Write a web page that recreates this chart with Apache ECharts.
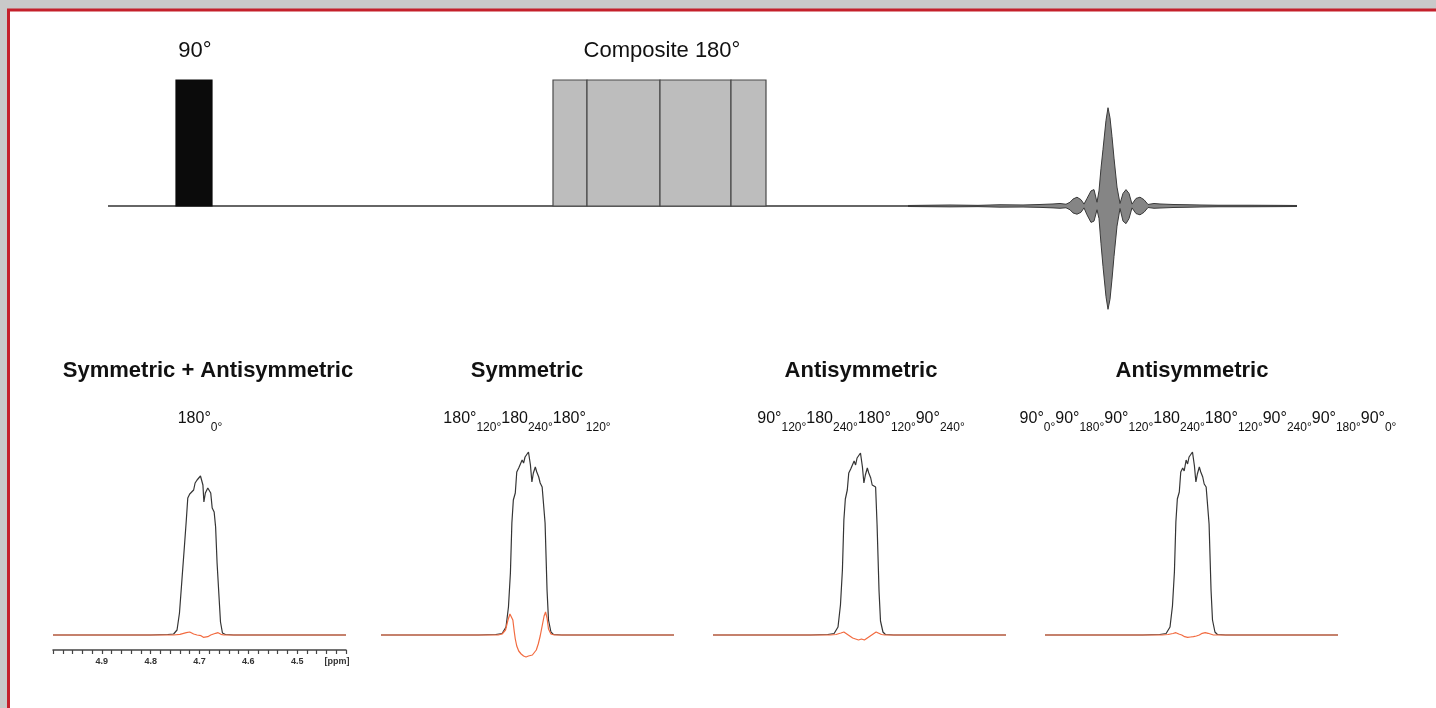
<!DOCTYPE html>
<html><head><meta charset="utf-8">
<script src="https://cdn.jsdelivr.net/npm/echarts@6/dist/echarts.min.js"></script>
<style>html,body{margin:0;padding:0;background:#c9c9c9;} #c{width:1436px;height:708px;}</style>
</head><body><div id="c"></div>
<script>
// ================= DATA =================
// --- pulse sequence (time in arbitrary units, amplitude relative to hard pulse = 1)
const seqBaseline = [[0, 0], [1189, 0]];
const hardPulse = [[68, 104, 1]];                       // [start, end, amplitude]
const compositeBlocks = [[445, 479, 1], [479, 552, 1], [552, 623, 1], [623, 658, 1]];
const shapedX = [800, 842, 870, 892, 915, 932, 945, 952, 958, 962, 965, 969, 973, 976, 979, 983, 986, 989, 991, 993, 995, 998, 1000, 1002, 1004, 1006, 1009, 1012, 1015, 1018, 1021, 1024, 1028, 1032, 1036, 1040, 1046, 1052, 1065, 1080, 1092, 1110, 1142, 1170, 1189];
const shapedUpper = [0.004, 0.008, 0.005, 0.01, 0.008, 0.012, 0.016, 0.02, 0.014, 0.03, 0.055, 0.07, 0.05, 0.015, 0.06, 0.12, 0.13, 0.03, 0.12, 0.3, 0.45, 0.68, 0.78, 0.7, 0.55, 0.38, 0.15, 0.02, 0.1, 0.13, 0.1, 0.015, 0.06, 0.07, 0.05, 0.012, 0.02, 0.016, 0.012, 0.01, 0.008, 0.006, 0.006, 0.005, 0.004];
const shapedLower = [-0.004, -0.007, -0.005, -0.009, -0.008, -0.011, -0.015, -0.018, -0.014, -0.03, -0.055, -0.065, -0.05, -0.015, -0.07, -0.13, -0.12, -0.03, -0.1, -0.3, -0.48, -0.72, -0.82, -0.74, -0.58, -0.4, -0.16, -0.02, -0.12, -0.14, -0.1, -0.015, -0.06, -0.07, -0.05, -0.012, -0.018, -0.016, -0.012, -0.01, -0.008, -0.006, -0.006, -0.005, -0.004];

// --- spectra: [ppm, intensity]
const p1Black = [[5.0,0],[4.80,0],[4.765,0.5],[4.753,1],[4.746,5],[4.741,22],[4.736,55],[4.731,88],[4.727,115],[4.724,137],[4.720,141],[4.716,143],[4.712,145],[4.709,152],[4.705,155],[4.701,156],[4.698,159],[4.695,160],[4.693,150],[4.691,133],[4.688,142],[4.683,147],[4.680,148],[4.677,142],[4.674,127],[4.670,123],[4.667,108],[4.664,72],[4.660,38],[4.657,13],[4.653,2],[4.647,0.5],[4.63,0],[4.4,0]];
const p1Orange = [[5.0,0],[4.753,0],[4.740,0.7],[4.727,2.3],[4.720,3],[4.716,1.7],[4.712,1],[4.705,0],[4.701,-1.7],[4.697,-0.7],[4.692,-2.3],[4.688,-1],[4.683,-1.7],[4.677,0],[4.674,0.7],[4.667,1.7],[4.665,3],[4.662,2.3],[4.656,0.7],[4.650,0],[4.4,0]];
const p2Black = [[5.0,0],[4.80,0],[4.765,0.5],[4.752,1.5],[4.744,8],[4.739,28],[4.735,62],[4.732,112],[4.729,135],[4.725,142],[4.722,163],[4.718,167],[4.715,165],[4.711,175],[4.708,172],[4.705,178],[4.701,177],[4.698,183],[4.694,170],[4.691,153],[4.688,162],[4.684,168],[4.681,163],[4.677,158],[4.674,152],[4.670,148],[4.667,150],[4.664,112],[4.660,45],[4.657,15],[4.652,3],[4.647,0.5],[4.63,0],[4.4,0]];
const p2Orange = [[5.0,0],[4.76,0],[4.752,1],[4.745,5],[4.740,15],[4.736,21],[4.733,23],[4.730,15],[4.727,3],[4.725,-4],[4.722,-11],[4.718,-16],[4.713,-19],[4.708,-21],[4.703,-22],[4.698,-21],[4.694,-22],[4.690,-20],[4.686,-19],[4.682,-15],[4.678,-9],[4.674,-1],[4.670,9],[4.666,19],[4.663,23],[4.660,17],[4.657,6],[4.652,1],[4.645,0],[4.4,0]];
const p3Black = [[5.0,0],[4.80,0],[4.765,0.5],[4.752,1.5],[4.744,8],[4.739,30],[4.735,65],[4.732,115],[4.729,136],[4.725,145],[4.722,162],[4.718,166],[4.715,166],[4.711,174],[4.708,170],[4.705,177],[4.701,178],[4.698,182],[4.694,168],[4.691,152],[4.688,160],[4.684,167],[4.681,162],[4.677,157],[4.674,150],[4.670,148],[4.667,148],[4.664,110],[4.660,44],[4.657,14],[4.652,3],[4.647,0.5],[4.63,0],[4.4,0]];
const p3Orange = [[5.0,0],[4.76,0],[4.748,0.5],[4.738,2],[4.732,3],[4.726,1],[4.720,-1],[4.714,-3],[4.708,-4],[4.702,-5],[4.696,-4],[4.690,-5],[4.684,-3],[4.678,-1],[4.672,1],[4.666,3],[4.662,2],[4.655,0.5],[4.648,0],[4.4,0]];
const p4Black = [[5.0,0],[4.80,0],[4.765,0.5],[4.752,1.5],[4.744,8],[4.739,29],[4.735,63],[4.732,113],[4.729,136],[4.725,143],[4.722,163],[4.718,167],[4.715,164],[4.711,175],[4.708,171],[4.705,178],[4.701,177],[4.698,183],[4.694,169],[4.691,153],[4.688,161],[4.684,168],[4.681,163],[4.677,158],[4.674,151],[4.670,148],[4.667,149],[4.664,111],[4.660,45],[4.657,15],[4.652,3],[4.647,0.5],[4.63,0],[4.4,0]];
const p4Orange = [[5.0,0],[4.76,0],[4.748,0.5],[4.738,1.5],[4.732,2.3],[4.726,1],[4.720,0],[4.714,-1.7],[4.708,-2.3],[4.702,-2],[4.696,-1.7],[4.690,-1],[4.684,0],[4.678,1.7],[4.672,2.3],[4.666,1.7],[4.662,0.5],[4.655,0],[4.4,0]];

// --- text
const pulseLabels = ['90°', 'Composite 180°'];
const panelTitles = ['Symmetric + Antisymmetric', 'Symmetric', 'Antisymmetric', 'Antisymmetric'];
const panelSchemes = [
  [['180°', '0°']],
  [['180°', '120°'], ['180', '240°'], ['180°', '120°']],
  [['90°', '120°'], ['180', '240°'], ['180°', '120°'], ['90°', '240°']],
  [['90°', '0°'], ['90°', '180°'], ['90°', '120°'], ['180', '240°'], ['180°', '120°'], ['90°', '240°'], ['90°', '180°'], ['90°', '0°']]
];
const ppmMin = 4.4, ppmMax = 5.0, ppmStep = 0.1;

// ================= LAYOUT =================
const panelLeft = [53, 381, 713, 1045];
const panelWidth = 293;
const titleCenters = [208, 527, 861, 1192];
const schemeCenters = [200, 527, 861, 1208];
const BLACK = '#353535', ORANGE = '#f26b40';

const chart = echarts.init(document.getElementById('c'));

const grids = [{ left: 108, width: 1189, top: 80, height: 252 }];
const xAxes = [{ gridIndex: 0, type: 'value', min: 0, max: 1189, show: false }];
const yAxes = [{ gridIndex: 0, type: 'value', min: -1, max: 1, show: false }];
panelLeft.forEach((l, i) => {
  const first = i === 0;
  grids.push({ left: l, width: panelWidth, top: 445, height: first ? 205 : 235 });
  xAxes.push({
    gridIndex: i + 1, type: 'value', min: ppmMin, max: ppmMax, interval: ppmStep, inverse: true,
    show: first,
    axisLine: { onZero: false, lineStyle: { color: '#444', width: 1.5 } },
    axisTick: { show: true, length: 4, lineStyle: { color: '#444', width: 1.2 } },
    minorTick: { show: true, splitNumber: 5, length: 4, lineStyle: { color: '#444', width: 1.2 } },
    splitLine: { show: false },
    axisLabel: {
      margin: 7, color: '#333', fontSize: 9, fontWeight: 'bold', fontFamily: 'Liberation Sans, Arial',
      formatter: v => Math.abs(v - ppmMin) < 1e-6 ? '{p|[ppm]}' : (Math.abs(v - ppmMax) < 1e-6 ? '' : v.toFixed(1)),
      rich: { p: { fontSize: 9, fontWeight: 'bold', color: '#333', padding: [0, 18, 0, 0], fontFamily: 'Liberation Sans, Arial' } }
    }
  });
  yAxes.push({ gridIndex: i + 1, type: 'value', min: first ? -15 : -45, max: 190, show: false });
});

function blockSeries(data, fill, stroke) {
  return {
    type: 'custom', xAxisIndex: 0, yAxisIndex: 0, z: 4,
    encode: { x: [0, 1], y: 2 },
    data: data,
    renderItem: (params, api) => {
      const a = api.coord([api.value(0), api.value(2)]);
      const b = api.coord([api.value(1), 0]);
      return { type: 'rect', shape: { x: a[0], y: a[1], width: b[0] - a[0], height: b[1] - a[1] },
        style: { fill: fill, stroke: stroke, lineWidth: 1.2 } };
    }
  };
}

const series = [
  { type: 'line', xAxisIndex: 0, yAxisIndex: 0, data: seqBaseline, symbol: 'none', lineStyle: { color: '#333', width: 1.5 }, z: 2 },
  { type: 'line', xAxisIndex: 0, yAxisIndex: 0, data: shapedX.map((x, i) => [x, shapedUpper[i]]), symbol: 'none',
    lineStyle: { color: '#3a3a3a', width: 1 }, areaStyle: { color: '#858585', opacity: 1 }, z: 3 },
  { type: 'line', xAxisIndex: 0, yAxisIndex: 0, data: shapedX.map((x, i) => [x, shapedLower[i]]), symbol: 'none',
    lineStyle: { color: '#3a3a3a', width: 1 }, areaStyle: { color: '#858585', opacity: 1 }, z: 3 },
  blockSeries(hardPulse, '#0b0b0b', '#0b0b0b'),
  blockSeries(compositeBlocks, '#bdbdbd', '#4a4a4a')
];
const blacks = [p1Black, p2Black, p3Black, p4Black];
const oranges = [p1Orange, p2Orange, p3Orange, p4Orange];
blacks.forEach((d, i) => {
  series.push({ type: 'line', xAxisIndex: i + 1, yAxisIndex: i + 1, data: d, symbol: 'none', lineStyle: { color: BLACK, width: 1.2 }, z: 3 });
  series.push({ type: 'line', xAxisIndex: i + 1, yAxisIndex: i + 1, data: oranges[i], symbol: 'none', lineStyle: { color: ORANGE, width: 1.2 }, z: 4 });
});

const FONT = 'Liberation Sans, Arial, Helvetica, sans-serif';
const titles = [
  { text: pulseLabels[0], left: 195, top: 40, textAlign: 'center', padding: 0, textStyle: { fontSize: 22, fontWeight: 'normal', color: '#111', fontFamily: FONT } },
  { text: pulseLabels[1], left: 662, top: 40, textAlign: 'center', padding: 0, textStyle: { fontSize: 22, fontWeight: 'normal', color: '#111', fontFamily: FONT } }
];
panelTitles.forEach((t, i) => {
  titles.push({ text: t, left: titleCenters[i], top: 360, textAlign: 'center', padding: 0,
    textStyle: { fontSize: 22, fontWeight: 'bold', color: '#111', fontFamily: FONT } });
  const txt = panelSchemes[i].map(p => '{m|' + p[0] + '}{s|' + p[1] + '}').join('');
  titles.push({ text: txt, left: schemeCenters[i], top: 404, textAlign: 'center', padding: 0,
    textStyle: { fontFamily: FONT, fontWeight: 'normal', rich: {
      m: { fontSize: 16, fontWeight: 'normal', lineHeight: 30, color: '#111', fontFamily: FONT, verticalAlign: 'middle' },
      s: { fontSize: 12, fontWeight: 'normal', lineHeight: 16, color: '#111', fontFamily: FONT, verticalAlign: 'bottom' }
    } } });
});

chart.setOption({
  backgroundColor: '#c9c9c9',
  animation: false,
  graphic: [{ type: 'rect', z: -10, shape: { x: 8.5, y: 10, width: 1450, height: 720 },
    style: { fill: '#ffffff', stroke: '#c4202b', lineWidth: 3 } }],
  title: titles,
  grid: grids,
  xAxis: xAxes,
  yAxis: yAxes,
  series: series
});
</script>
</body></html>
